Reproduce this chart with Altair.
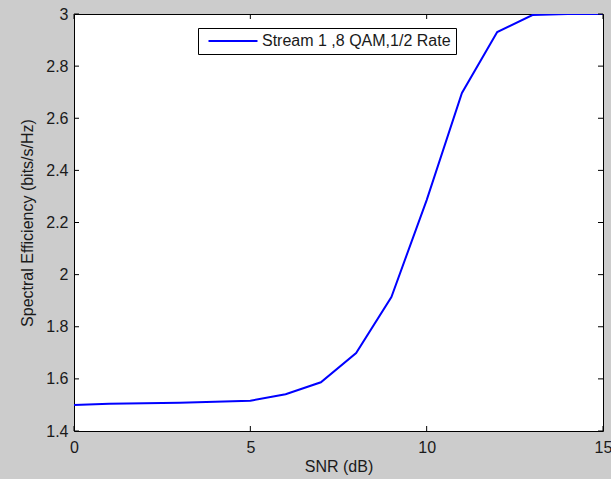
import altair as alt
import pandas as pd

snr = list(range(16))
eff = [1.500, 1.505, 1.506, 1.508, 1.512, 1.516, 1.541, 1.587, 1.699,
       1.914, 2.286, 2.697, 2.931, 2.996, 3.000, 3.000]
series_name = "Stream 1 ,8 QAM,1/2 Rate"
x_ticks = [0, 5, 10, 15]
y_ticks = [1.4, 1.6, 1.8, 2.0, 2.2, 2.4, 2.6, 2.8, 3.0]

df = pd.DataFrame({"snr": snr, "eff": eff, "series": [series_name] * len(snr)})
xt = pd.DataFrame({"v": x_ticks})
yt = pd.DataFrame({"v": y_ticks})

FONT = "Liberation Sans"
TXT = "#1a1a1a"
W, H, TL = 529, 417, 5
xs = alt.Scale(domain=[0, 15], nice=False, zero=False)
ys = alt.Scale(domain=[1.4, 3.0], nice=False, zero=False)

x_axis = alt.Axis(orient="bottom", values=x_ticks, format="~g", grid=False,
                  ticks=False, domain=False, labelPadding=8,
                  labelFlush=False, titlePadding=3, title="SNR (dB)",
                  labelFont=FONT, labelFontSize=16, labelColor=TXT,
                  titleFont=FONT, titleFontSize=16,
                  titleFontWeight="normal", titleColor=TXT)
y_axis = alt.Axis(orient="left", values=y_ticks, format="~g", grid=False,
                  ticks=False, domain=False, labelPadding=6,
                  labelFlush=False, titlePadding=10,
                  title="Spectral Efficiency (bits/s/Hz)",
                  labelFont=FONT, labelFontSize=16, labelColor=TXT,
                  titleFont=FONT, titleFontSize=16,
                  titleFontWeight="normal", titleColor=TXT)

main = alt.Chart(df).mark_line(strokeWidth=2, clip=True).encode(
    x=alt.X("snr:Q", scale=xs, axis=x_axis),
    y=alt.Y("eff:Q", scale=ys, axis=y_axis),
    color=alt.Color("series:N", scale=alt.Scale(range=["#0000ff"]), title=None,
                    legend=alt.Legend(orient="none", legendX=124, legendY=14,
                                      symbolType="M-4,0H4", symbolSize=150,
                                      symbolOffset=22, labelOffset=21,
                                      symbolStrokeWidth=2, strokeColor="black",
                                      fillColor="white", padding=5,
                                      labelFont=FONT, labelFontSize=16,
                                      labelColor=TXT, labelLimit=400)),
)

tick_x_bottom = alt.Chart(xt).mark_rule(color="black", strokeWidth=1).encode(
    x=alt.X("v:Q", scale=xs, axis=x_axis),
    y=alt.value(H), y2=alt.value(H - TL))
tick_x_top = alt.Chart(xt).mark_rule(color="black", strokeWidth=1).encode(
    x=alt.X("v:Q", scale=xs, axis=x_axis),
    y=alt.value(0), y2=alt.value(TL))
tick_y_left = alt.Chart(yt).mark_rule(color="black", strokeWidth=1).encode(
    y=alt.Y("v:Q", scale=ys, axis=y_axis),
    x=alt.value(0), x2=alt.value(TL))
tick_y_right = alt.Chart(yt).mark_rule(color="black", strokeWidth=1).encode(
    y=alt.Y("v:Q", scale=ys, axis=y_axis),
    x=alt.value(W), x2=alt.value(W - TL))

chart = alt.layer(
    main, tick_x_bottom, tick_x_top, tick_y_left, tick_y_right
).properties(
    width=W, height=H,
    background="#cccccc",
    padding={"left": 74, "top": 14, "right": 8, "bottom": 48},
    autosize=alt.AutoSizeParams(type="none"),
).configure_view(
    fill="white", stroke="black", strokeWidth=1
)

chart.save("out.html", embed_options={"renderer": "svg", "actions": False})
